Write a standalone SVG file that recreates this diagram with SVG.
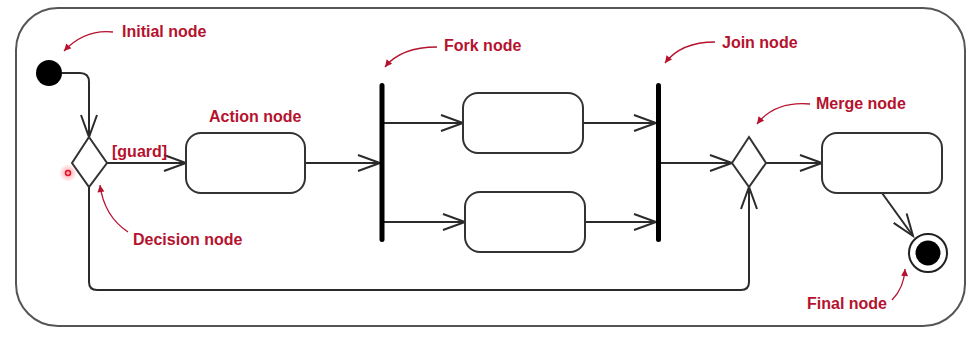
<svg xmlns="http://www.w3.org/2000/svg" width="977" height="337" viewBox="0 0 977 337">
<defs>
<marker id="open" markerUnits="userSpaceOnUse" markerWidth="26" markerHeight="20" refX="22" refY="8" orient="auto" overflow="visible">
<path d="M0,0 L22,8 L0,16" fill="none" stroke="#2b2b2b" stroke-width="2"/>
</marker>
<marker id="red" markerUnits="userSpaceOnUse" markerWidth="10" markerHeight="10" refX="7" refY="3.5" orient="auto" overflow="visible">
<path d="M0,0 L7,3.5 L0,7 Z" fill="#b5122e"/>
</marker>
<radialGradient id="glow">
<stop offset="0" stop-color="#ff4a5a" stop-opacity="0.55"/>
<stop offset="1" stop-color="#ff4a5a" stop-opacity="0"/>
</radialGradient>
</defs>
<style>
.frame{fill:#fff;stroke:#555;stroke-width:2}
.box{fill:#fff;stroke:#333;stroke-width:2}
.edge{fill:none;stroke:#2b2b2b;stroke-width:2;marker-end:url(#open)}
.bar{fill:#000}
.lbl{font-family:"Liberation Sans",Arial,sans-serif;font-weight:bold;font-size:16px;fill:#b5122e}
.ann{fill:none;stroke:#b5122e;stroke-width:1.3;marker-end:url(#red)}
</style>
<rect width="977" height="337" fill="#fff"/>
<rect id="frame" class="frame" x="16" y="8" width="949" height="318" rx="42" ry="42"/>

<g id="connectors">
<path class="edge" d="M62,73 H80 Q89,73 89,82 V137"/>
<path class="edge" d="M107,163 H186"/>
<path class="edge" d="M305,163 H380"/>
<path class="edge" d="M384,123 H463"/>
<path class="edge" d="M384,222 H465"/>
<path class="edge" d="M583,123 H656"/>
<path class="edge" d="M585,222 H656"/>
<path class="edge" d="M661,163 H732"/>
<path class="edge" d="M766,163 H822"/>
<path class="edge" d="M882,193 L913,236"/>
<path class="edge" d="M89,187 V282 Q89,290 97,290 H741 Q749,290 749,282 V187"/>
</g>

<g id="initial"><circle cx="49" cy="73" r="13" fill="#000"/></g>
<g id="decision"><path class="box" d="M89,137 L107,163 L89,187 L72,163 Z"/></g>
<g id="action"><rect class="box" x="186" y="133" width="119" height="60" rx="15"/></g>
<g id="fork"><rect class="bar" x="379.5" y="83" width="5" height="159" rx="2.5"/></g>
<g id="action2"><rect class="box" x="463" y="93" width="120" height="60" rx="15"/></g>
<g id="action3"><rect class="box" x="465" y="192" width="120" height="60" rx="15"/></g>
<g id="join"><rect class="bar" x="656" y="83" width="5" height="159" rx="2.5"/></g>
<g id="merge"><path class="box" d="M749,137 L766,163 L749,187 L732,163 Z"/></g>
<g id="action4"><rect class="box" x="822" y="133" width="120" height="60" rx="15"/></g>
<g id="final">
<circle cx="928" cy="253" r="19" fill="#fff" stroke="#222" stroke-width="2"/>
<circle cx="928" cy="253" r="12.5" fill="#000"/>
</g>

<g id="annotations">
<text class="lbl" x="122" y="37">Initial node</text>
<path class="ann" d="M113,32 Q85,29 64,51"/>
<text class="lbl" x="112" y="157">[guard]</text>
<text class="lbl" x="209" y="122">Action node</text>
<text class="lbl" x="133" y="245">Decision node</text>
<path class="ann" d="M128,232 Q104,216 100,185"/>
<text class="lbl" x="444" y="51">Fork node</text>
<path class="ann" d="M437,47 Q401,47 385,67"/>
<text class="lbl" x="722" y="48">Join node</text>
<path class="ann" d="M715,42 Q681,42 665,63"/>
<text class="lbl" x="816" y="109">Merge node</text>
<path class="ann" d="M810,104 Q775,101 757,124"/>
<text class="lbl" x="807" y="309">Final node</text>
<path class="ann" d="M892,300 Q904,288 905,269"/>
</g>

<g id="pointer">
<circle cx="68" cy="173" r="9" fill="url(#glow)"/>
<circle cx="68" cy="173" r="2.5" fill="none" stroke="#e0142a" stroke-width="1.5"/>
</g>
</svg>
